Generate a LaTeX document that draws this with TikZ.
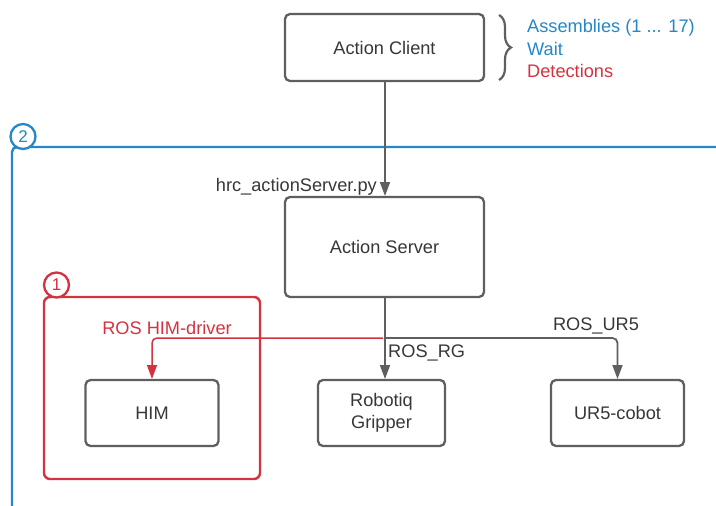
\documentclass[tikz,border=0pt]{standalone}
\usepackage{fontspec}
\setmainfont{Liberation Sans}
\usetikzlibrary{arrows.meta,decorations.pathreplacing,calc}
\definecolor{boxgray}{RGB}{95,95,95}
\definecolor{txtgray}{RGB}{55,55,55}
\definecolor{frameblue}{RGB}{35,135,200}
\definecolor{framered}{RGB}{212,50,62}
\tikzset{
  box/.style={draw=boxgray, line width=2.3pt, rounded corners=5pt, fill=white,
    inner sep=0pt, text=txtgray, align=center, font=\fontsize{18.2}{22}\selectfont},
  conn/.style={draw=boxgray, line width=1.8pt, -{Triangle[length=14pt,width=10pt]}},
  redconn/.style={draw=framered, line width=1.5pt, -{Triangle[length=14pt,width=10pt]}},
  lbl/.style={text=txtgray, inner sep=0pt, font=\fontsize{18.2}{22}\selectfont},
  numcircle/.style={circle, fill=white, line width=2.3pt, minimum size=25pt, inner sep=0pt,
    font=\fontsize{17}{21}\selectfont},
}
\begin{document}
\begin{tikzpicture}[x=1pt,y=-1pt]
\clip (0,0) rectangle (716,506);
\useasboundingbox (0,0) rectangle (716,506);
% frame 2 (blue)
\draw[frameblue, line width=2.4pt, rounded corners=5pt] (12,540) -- (12,147) -- (740,147);
\node[numcircle, draw=frameblue, text=frameblue] (c2) at (23,136.5) {2};
% frame 1 (red)
\node[draw=framered, line width=2.4pt, rounded corners=6pt, minimum width=216pt, minimum height=182pt,
  inner sep=0pt] (f1) at (152,388) {};
\node[numcircle, draw=framered, text=framered] (c1) at (56.5,285) {1};
% boxes
\node[box, minimum width=199pt, minimum height=67pt] (ac) at (384.5,47.5) {Action Client};
\node[box, minimum width=199pt, minimum height=100pt] (as) at (384.5,247) {Action Server};
\node[box, minimum width=133pt, minimum height=66pt] (him) at (152,413) {HIM};
\node[box, minimum width=127pt, minimum height=66pt] (rg) at (381.5,413) {Robotiq\\Gripper};
\node[box, minimum width=133pt, minimum height=66pt] (ur) at (617.5,413) {UR5-cobot};
% brace and list
\draw[boxgray, line width=2.2pt, decorate, decoration={brace, amplitude=12pt}] (499,15) -- (499,80);
\node[anchor=west, inner sep=0pt, text=frameblue, font=\fontsize{18.2}{22}\selectfont] (t1) at (527,28) {Assemblies (1 ... 17)};
\node[anchor=west, inner sep=0pt, text=frameblue, font=\fontsize{18.2}{22}\selectfont] (t2) at (527,49) {Wait};
\node[anchor=west, inner sep=0pt, text=framered, font=\fontsize{18.2}{22}\selectfont] (t3) at (527,71) {Detections};
% connectors
\draw[conn] (ac.south -| 385,0) -- (385,196);
\node[lbl, anchor=east] (lhrc) at (377,187) {hrc\_actionServer.py};
\coordinate (split) at (385,338);
\draw[conn] (as.south -| 385,0) -- (385,379);
\draw[conn, rounded corners=5pt] (split) -| (617.5,379);
\draw[redconn, rounded corners=5pt] (383,338) -| (152,379);
\node[lbl, text=framered] (lhim) at (167,328) {ROS HIM-driver};
\node[lbl, anchor=west] (lrg) at (388,353) {ROS\_RG};
\node[lbl] (lur) at (596,326) {ROS\_UR5};
\end{tikzpicture}
\end{document}
